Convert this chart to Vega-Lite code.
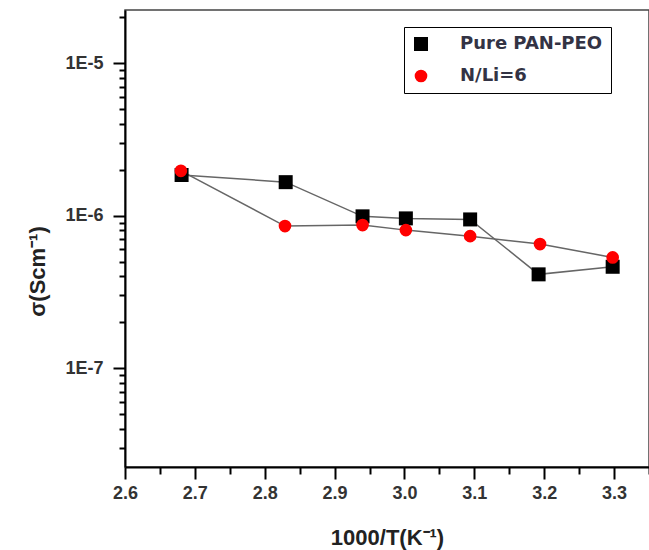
{
  "$schema": "https://vega.github.io/schema/vega-lite/v6.json",
  "width": 524,
  "height": 457,
  "autosize": {"type": "none"},
  "padding": {"left": 125, "top": 10, "right": 0, "bottom": 83},
  "background": "white",
  "config": {"view": {"stroke": "#444", "strokeWidth": 1.5}},
  "data": {
    "values": [
      {"x": 2.681, "y": 1.85e-6, "series": "Pure PAN-PEO"},
      {"x": 2.830, "y": 1.66e-6, "series": "Pure PAN-PEO"},
      {"x": 2.940, "y": 9.9e-7, "series": "Pure PAN-PEO"},
      {"x": 3.002, "y": 9.6e-7, "series": "Pure PAN-PEO"},
      {"x": 3.094, "y": 9.45e-7, "series": "Pure PAN-PEO"},
      {"x": 3.192, "y": 4.12e-7, "series": "Pure PAN-PEO"},
      {"x": 3.298, "y": 4.62e-7, "series": "Pure PAN-PEO"},
      {"x": 2.680, "y": 1.97e-6, "series": "N/Li=6"},
      {"x": 2.829, "y": 8.55e-7, "series": "N/Li=6"},
      {"x": 2.940, "y": 8.68e-7, "series": "N/Li=6"},
      {"x": 3.002, "y": 8.04e-7, "series": "N/Li=6"},
      {"x": 3.094, "y": 7.34e-7, "series": "N/Li=6"},
      {"x": 3.194, "y": 6.51e-7, "series": "N/Li=6"},
      {"x": 3.298, "y": 5.32e-7, "series": "N/Li=6"}
    ]
  },
  "encoding": {
    "x": {
      "field": "x",
      "type": "quantitative",
      "scale": {"domain": [2.6, 3.35], "nice": false, "zero": false},
      "axis": {
        "title": "1000/T(K⁻¹)",
        "titleFont": "Liberation Sans",
        "titleFontSize": 22,
        "titleFontWeight": "bold",
        "titleColor": "#222",
        "titleBaseline": "alphabetic",
        "titleY": 77,
        "grid": false,
        "values": [2.6, 2.65, 2.7, 2.75, 2.8, 2.85, 2.9, 2.95, 3.0, 3.05, 3.1, 3.15, 3.2, 3.25, 3.3, 3.35],
        "labelExpr": "abs(datum.value*10 - round(datum.value*10)) < 0.001 ? format(datum.value, '.1f') : ''",
        "labelFont": "Liberation Sans",
        "labelFontSize": 18,
        "labelFontWeight": "bold",
        "labelColor": "#333",
        "labelPadding": 5,
        "labelFlush": false,
        "labelOverlap": false,
        "domainColor": "black",
        "domainWidth": 2,
        "tickColor": "black",
        "tickWidth": 2,
        "tickSize": {"condition": {"test": "abs(datum.value*10 - round(datum.value*10)) < 0.001", "value": 12}, "value": 7}
      }
    },
    "y": {
      "field": "y",
      "type": "quantitative",
      "scale": {"type": "log", "domain": [2.24e-8, 2.24e-5], "nice": false},
      "axis": {
        "title": "σ(Scm⁻¹)",
        "titleFont": "Liberation Sans",
        "titleFontSize": 22,
        "titleFontWeight": "bold",
        "titleColor": "#222",
        "titleAngle": -90,
        "titleAlign": "center",
        "titleBaseline": "middle",
        "titleX": -88,
        "titleY": 261,
        "grid": false,
        "values": [3e-8, 4e-8, 5e-8, 6e-8, 7e-8, 8e-8, 9e-8, 1e-7, 2e-7, 3e-7, 4e-7, 5e-7, 6e-7, 7e-7, 8e-7, 9e-7, 1e-6, 2e-6, 3e-6, 4e-6, 5e-6, 6e-6, 7e-6, 8e-6, 9e-6, 1e-5, 2e-5],
        "labelExpr": "indexof([1e-5, 1e-6, 1e-7], datum.value) >= 0 ? '1E-' + round(-log(datum.value)/LN10) : ''",
        "labelFont": "Liberation Sans",
        "labelFontSize": 18,
        "labelFontWeight": "bold",
        "labelColor": "#333",
        "labelPadding": 10,
        "labelFlush": false,
        "labelOverlap": false,
        "domainColor": "black",
        "domainWidth": 2,
        "tickColor": "black",
        "tickWidth": 2,
        "tickSize": {"condition": {"test": "indexof([1e-5, 1e-6, 1e-7], datum.value) >= 0", "value": 12}, "value": 6}
      }
    }
  },
  "layer": [
    {
      "mark": {"type": "line", "color": "#666", "strokeWidth": 1.5},
      "encoding": {"detail": {"field": "series"}}
    },
    {
      "mark": {"type": "point", "filled": true, "opacity": 1, "strokeWidth": 0},
      "encoding": {
        "shape": {
          "field": "series",
          "scale": {"domain": ["Pure PAN-PEO", "N/Li=6"], "range": ["square", "circle"]},
          "legend": {"orient": "none", "legendX": 279, "legendY": 17, "title": null, "strokeColor": "black", "padding": 8, "labelFont": "DejaVu Sans", "labelFontSize": 18, "labelFontWeight": "bold", "labelColor": "#334", "labelOffset": 30, "rowPadding": 14, "symbolStrokeWidth": 0}
        },
        "color": {
          "field": "series",
          "scale": {"domain": ["Pure PAN-PEO", "N/Li=6"], "range": ["black", "red"]},
          "legend": {"orient": "none", "legendX": 279, "legendY": 17, "title": null, "strokeColor": "black", "padding": 8, "labelFont": "DejaVu Sans", "labelFontSize": 18, "labelFontWeight": "bold", "labelColor": "#334", "labelOffset": 30, "rowPadding": 14, "symbolStrokeWidth": 0}
        },
        "size": {
          "field": "series",
          "scale": {"domain": ["Pure PAN-PEO", "N/Li=6"], "range": [196, 160]},
          "legend": {"orient": "none", "legendX": 279, "legendY": 17, "title": null, "strokeColor": "black", "padding": 8, "labelFont": "DejaVu Sans", "labelFontSize": 18, "labelFontWeight": "bold", "labelColor": "#334", "labelOffset": 30, "rowPadding": 14, "symbolStrokeWidth": 0}
        }
      }
    }
  ]
}
